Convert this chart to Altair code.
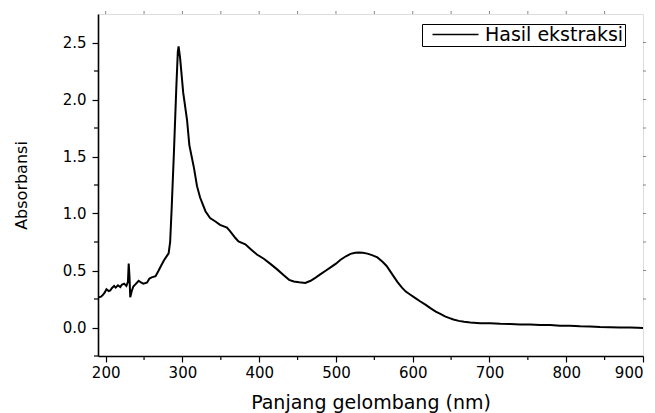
import altair as alt
import pandas as pd

series_name = "Hasil ekstraksi"

wavelength = [191, 194, 197, 199, 201, 204, 206, 208, 211, 213, 216, 219, 221, 224, 227, 229,
              230, 231, 232, 234, 236, 239, 243, 246, 249, 252, 254, 257, 260, 265, 269, 272,
              276, 280, 282, 284, 286, 289, 292, 294, 295, 297, 301, 306, 309, 315, 319, 323,
              330, 336, 343, 349, 358, 362, 369, 373, 382, 389, 397, 406, 415, 423, 432, 439,
              445, 452, 460, 467, 474, 480, 487, 493, 500, 506, 513, 519, 525, 530, 535, 541,
              547, 554, 561, 566, 571, 576, 580, 586, 591, 597, 603, 610, 617, 623, 630, 636,
              642, 648, 653, 660, 667, 675, 688, 701, 714, 727, 740, 753, 766, 779, 792, 805,
              818, 831, 844, 857, 870, 883, 893, 900]
absorbance = [0.265, 0.27, 0.29, 0.31, 0.335, 0.32, 0.325, 0.345, 0.365, 0.35, 0.37, 0.355, 0.375, 0.385, 0.365, 0.40,
              0.56, 0.45, 0.265, 0.32, 0.36, 0.38, 0.41, 0.395, 0.385, 0.39, 0.395, 0.43, 0.44, 0.45, 0.50, 0.54,
              0.59, 0.63, 0.65, 0.75, 1.05, 1.55, 2.10, 2.42, 2.465, 2.36, 2.06, 1.82, 1.60, 1.40, 1.24, 1.14,
              1.02, 0.96, 0.93, 0.90, 0.877, 0.845, 0.785, 0.755, 0.73, 0.687, 0.64, 0.603, 0.556, 0.512, 0.458, 0.418,
              0.403, 0.396, 0.39, 0.41, 0.44, 0.468, 0.50, 0.527, 0.56, 0.594, 0.625, 0.646, 0.656, 0.658, 0.655, 0.648,
              0.635, 0.615, 0.575, 0.54, 0.49, 0.44, 0.40, 0.35, 0.315, 0.287, 0.26, 0.228, 0.198, 0.17, 0.14, 0.12,
              0.097, 0.082, 0.07, 0.058, 0.05, 0.044, 0.038, 0.037, 0.033, 0.031, 0.027, 0.026, 0.022, 0.021, 0.016, 0.015,
              0.011, 0.009, 0.004, 0.003, 0.0, -0.001, -0.003, -0.004]

x_major = [200, 300, 400, 500, 600, 700, 800, 900]
x_minor = [250, 350, 450, 550, 650, 750, 850]
x_all = [200, 250, 300, 350, 400, 450, 500, 550, 600, 650, 700, 750, 800, 850]
y_major = [0.0, 0.5, 1.0, 1.5, 2.0, 2.5]
y_minor = [-0.25, 0.25, 0.75, 1.25, 1.75, 2.25]
y_all = [0.25, 0.5, 0.75, 1.0, 1.25, 1.5, 1.75, 2.0, 2.25, 2.5]

W, H = 545, 342
FONT = "DejaVu Sans"

df = pd.DataFrame({"wl": wavelength, "abs": absorbance, "series": series_name})
xs = alt.Scale(domain=[190, 900], nice=False, zero=False)
ys = alt.Scale(domain=[-0.25, 2.75], nice=False, zero=False)

line = alt.Chart(df).mark_line(strokeWidth=2, clip=True).encode(
    x=alt.X("wl:Q", scale=xs,
            axis=alt.Axis(values=x_major, title="Panjang gelombang (nm)", grid=False,
                          tickSize=6, tickWidth=1.2, tickColor="black", labelPadding=3,
                          labelFont=FONT, labelFontSize=15, labelColor="black",
                          domainColor="black", domainWidth=1.6,
                          titleFont=FONT, titleFontSize=19, titleFontWeight="normal",
                          titleColor="black", titleX=W / 2, titleY=52,
                          titleBaseline="alphabetic")),
    y=alt.Y("abs:Q", scale=ys,
            axis=alt.Axis(values=y_major, format=".1f", title="Absorbansi", grid=False,
                          tickSize=6, tickWidth=1.2, tickColor="black", labelPadding=6,
                          labelFont=FONT, labelFontSize=15, labelColor="black",
                          domainColor="black", domainWidth=1.6,
                          titleFont=FONT, titleFontSize=16, titleFontWeight="normal",
                          titleColor="black", titleX=-77, titleY=H / 2,
                          titleBaseline="middle")),
    color=alt.Color("series:N", scale=alt.Scale(range=["black"]),
                    legend=alt.Legend(title=None, orient="none", legendX=324, legendY=10,
                                      symbolType="M-3,0H3", symbolSize=235,
                                      symbolStrokeWidth=1.6, symbolOffset=23,
                                      labelOffset=20, labelFont=FONT, labelFontSize=19,
                                      labelColor="black", labelLimit=300,
                                      fillColor="white", strokeColor="black", padding=1)),
)

bx = pd.DataFrame({"v": x_minor})
by = pd.DataFrame({"v": y_minor})
tx = pd.DataFrame({"v": x_all})
ty = pd.DataFrame({"v": y_all})

minor_bottom = alt.Chart(bx).mark_rule(color="black", strokeWidth=1.2).encode(
    x=alt.X("v:Q", scale=xs), y=alt.value(H), y2=alt.value(H + 4))
minor_left = alt.Chart(by).mark_rule(color="black", strokeWidth=1.2).encode(
    y=alt.Y("v:Q", scale=ys), x=alt.value(0), x2=alt.value(-4))
top_ticks = alt.Chart(tx).mark_rule(color="#888888", strokeWidth=1).encode(
    x=alt.X("v:Q", scale=xs), y=alt.value(0), y2=alt.value(-3))
right_ticks = alt.Chart(ty).mark_rule(color="#888888", strokeWidth=1).encode(
    y=alt.Y("v:Q", scale=ys), x=alt.value(W), x2=alt.value(W + 3))

chart = alt.layer(line, minor_bottom, minor_left, top_ticks, right_ticks).properties(
    width=W, height=H,
    autosize=alt.AutoSizeParams(type="none"),
    padding={"left": 98, "top": 14, "right": 12, "bottom": 57},
).configure_view(stroke="black", strokeWidth=1.6).configure(background="white")

chart.save("out.html", embed_options={"renderer": "svg", "actions": False})
